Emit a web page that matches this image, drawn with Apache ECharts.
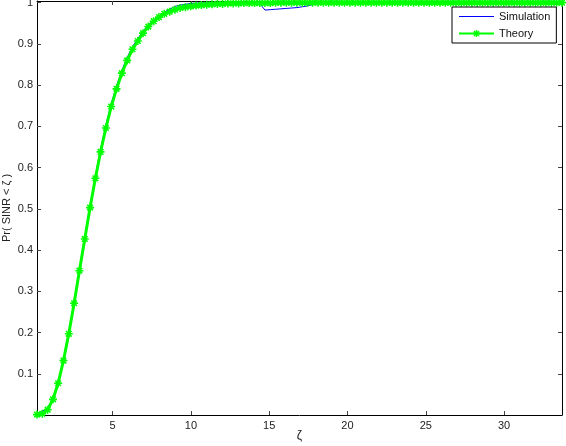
<!DOCTYPE html>
<html>
<head>
<meta charset="utf-8">
<script src="https://cdn.jsdelivr.net/npm/echarts@6/dist/echarts.min.js"></script>
<style>
  html, body { margin: 0; padding: 0; background: #fff; }
  #myChart { width: 566px; height: 446px; }
</style>
</head>
<body>
<div id="myChart"></div>
<script>
// zeta values (x)
const zeta = [
  0.17, 0.51, 0.85, 1.19, 1.52, 1.86, 2.20, 2.54, 2.88, 3.22,
  3.56, 3.90, 4.23, 4.57, 4.91, 5.25, 5.59, 5.93, 6.27, 6.61,
  6.94, 7.28, 7.62, 7.96, 8.30, 8.64, 8.98, 9.31, 9.65, 9.99,
  10.33, 10.67, 11.01, 11.35, 11.69, 12.02, 12.36, 12.70, 13.04, 13.38,
  13.72, 14.06, 14.40, 14.73, 15.07, 15.41, 15.75, 16.09, 16.43, 16.77,
  17.11, 17.44, 17.78, 18.12, 18.46, 18.80, 19.14, 19.48, 19.81, 20.15,
  20.49, 20.83, 21.17, 21.51, 21.85, 22.19, 22.52, 22.86, 23.20, 23.54,
  23.88, 24.22, 24.56, 24.89, 25.23, 25.57, 25.91, 26.25, 26.59, 26.93,
  27.27, 27.60, 27.94, 28.28, 28.62, 28.96, 29.30, 29.64, 29.98, 30.31,
  30.65, 30.99, 31.33, 31.67, 32.01, 32.35, 32.68, 33.02, 33.36, 33.70
];

const simulation = [
  0.002, 0.009, 0.016, 0.040, 0.079, 0.135, 0.200, 0.275, 0.354, 0.432,
  0.508, 0.580, 0.645, 0.703, 0.755, 0.798, 0.836, 0.867, 0.893, 0.913,
  0.931, 0.946, 0.958, 0.968, 0.977, 0.984, 0.991, 0.994, 0.996, 0.998,
  0.999, 0.999, 1.000, 1.000, 1.000, 0.999, 1.000, 1.000, 0.999, 1.000,
  1.000, 0.999, 0.998, 0.982, 0.983, 0.984, 0.985, 0.986, 0.987, 0.988,
  0.990, 0.992, 0.995, 0.997, 0.999, 0.999, 1.000, 0.999, 1.000, 1.000,
  1.000, 1.000, 0.999, 1.000, 1.000, 1.000, 1.000, 1.000, 1.000, 1.000,
  1.000, 1.000, 1.000, 1.000, 1.000, 1.000, 1.000, 1.000, 1.000, 1.000,
  1.000, 1.000, 1.000, 1.000, 1.000, 1.000, 1.000, 1.000, 1.000, 1.000,
  1.000, 1.000, 1.000, 1.000, 1.000, 1.000, 1.000, 1.000, 1.000, 1.000
];

const theory = [
  0.001, 0.003, 0.013, 0.038, 0.077, 0.132, 0.197, 0.271, 0.350, 0.427,
  0.503, 0.574, 0.638, 0.696, 0.748, 0.791, 0.829, 0.860, 0.887, 0.907,
  0.926, 0.942, 0.955, 0.965, 0.973, 0.978, 0.983, 0.987, 0.989, 0.991,
  0.993, 0.994, 0.995, 0.996, 0.997, 0.997, 0.998, 0.998, 0.998, 0.999,
  0.999, 0.999, 0.999, 0.999, 0.999, 1.000, 1.000, 1.000, 1.000, 1.000,
  1.000, 1.000, 1.000, 1.000, 1.000, 1.000, 1.000, 1.000, 1.000, 1.000,
  1.000, 1.000, 1.000, 1.000, 1.000, 1.000, 1.000, 1.000, 1.000, 1.000,
  1.000, 1.000, 1.000, 1.000, 1.000, 1.000, 1.000, 1.000, 1.000, 1.000,
  1.000, 1.000, 1.000, 1.000, 1.000, 1.000, 1.000, 1.000, 1.000, 1.000,
  1.000, 1.000, 1.000, 1.000, 1.000, 1.000, 1.000, 1.000, 1.000, 1.000
];

const xTicks = [5, 10, 15, 20, 25, 30];
const yTicks = [0.1, 0.2, 0.3, 0.4, 0.5, 0.6, 0.7, 0.8, 0.9, 1];

const font = "Liberation Sans";
// matlab '*' marker
const starPath =
  "path://M-1,-5L1,-5L1,5L-1,5Z M-5,-1L5,-1L5,1L-5,1Z " +
  "M-4.2,-2.8L-2.8,-4.2L4.2,2.8L2.8,4.2Z M-4.2,2.8L2.8,-4.2L4.2,-2.8L-2.8,4.2Z";

function xAxisCfg(pos, showLabel) {
  return {
    type: "value",
    position: pos,
    min: 0.17,
    max: 33.7,
    axisLine: { show: true, onZero: false, lineStyle: { color: "#000", width: 1 } },
    axisTick: { show: true, inside: true, length: 4, customValues: xTicks, lineStyle: { color: "#444" } },
    axisLabel: { show: showLabel, customValues: xTicks, fontSize: 11, color: "#222", fontFamily: font, margin: 5 },
    splitLine: { show: false },
  };
}

function yAxisCfg(pos, showLabel) {
  return {
    type: "value",
    position: pos,
    min: 0,
    max: 1.004,
    axisLine: { show: true, onZero: false, lineStyle: { color: "#000", width: 1 } },
    axisTick: { show: true, inside: true, length: 4, customValues: yTicks, lineStyle: { color: "#444" } },
    axisLabel: { show: showLabel, customValues: yTicks, fontSize: 11, color: "#222", fontFamily: font, margin: 4 },
    splitLine: { show: false },
  };
}

const xBottom = xAxisCfg("bottom", true);
xBottom.name = "ζ";
xBottom.nameLocation = "middle";
xBottom.nameGap = 15;
xBottom.nameMoveOverlap = false;
xBottom.nameTextStyle = { fontSize: 12, color: "#222", fontFamily: font };

const yLeft = yAxisCfg("left", true);
yLeft.name = "Pr( SINR < ζ )";
yLeft.nameLocation = "middle";
yLeft.nameGap = 25;
yLeft.nameMoveOverlap = false;
yLeft.nameTextStyle = { fontSize: 11, color: "#222", fontFamily: font };

const option = {
  backgroundColor: "#fff",
  animation: false,
  grid: { left: 37, right: 4, top: 1, bottom: 31, containLabel: false, outerBoundsMode: "none" },
  legend: {
    orient: "vertical",
    left: 452,
    top: 7,
    padding: [4, 6, 4, 6],
    itemWidth: 35,
    itemHeight: 9,
    itemGap: 6,
    borderColor: "#000",
    borderWidth: 1,
    backgroundColor: "#fff",
    textStyle: { fontSize: 11, color: "#111", fontFamily: font },
    data: [
      { name: "Simulation", icon: "path://M0,4L35,4L35,5L0,5Z" },
      { name: "Theory" },
    ],
  },
  xAxis: [xBottom, xAxisCfg("top", false)],
  yAxis: [yLeft, yAxisCfg("right", false)],
  series: [
    {
      name: "Simulation",
      type: "line",
      data: zeta.map((x, i) => [x, simulation[i]]),
      symbol: "none",
      lineStyle: { color: "#0000ff", width: 1 },
      itemStyle: { color: "#0000ff" },
      z: 2,
    },
    {
      name: "Theory",
      type: "line",
      data: zeta.map((x, i) => [x, theory[i]]),
      symbol: starPath,
      symbolSize: 8,
      showAllSymbol: true,
      lineStyle: { color: "#00ff00", width: 3 },
      itemStyle: { color: "#00ff00", borderWidth: 0 },
      z: 3,
    },
  ],
};

const myChart = echarts.init(document.getElementById("myChart"), null, { renderer: "canvas" });
myChart.setOption(option);
</script>
</body>
</html>
